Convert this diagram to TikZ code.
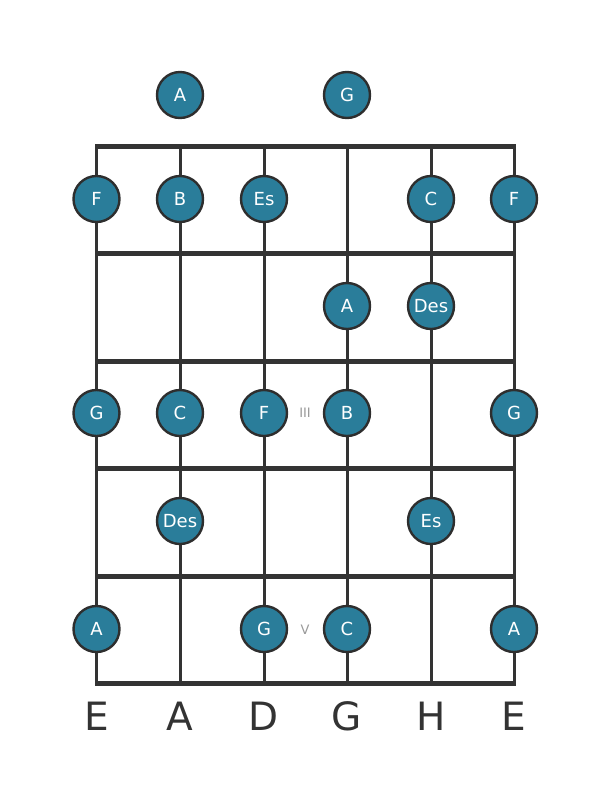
\documentclass[tikz,border=0pt]{standalone}
\usepackage{fontspec}
\setmainfont{DejaVu Sans}
\definecolor{notefill}{HTML}{2A7D9A}
\definecolor{ink}{HTML}{333333}
\definecolor{numgray}{HTML}{999999}
\begin{document}
\begin{tikzpicture}[x=1pt,y=-1pt,
  note/.style={circle,draw=ink!90!black,line width=2.4pt,fill=notefill,minimum size=46pt,inner sep=0pt,text=white,font=\fontsize{18}{18}\selectfont},
  fretline/.style={draw=ink,line width=5pt},
  stringline/.style={draw=ink,line width=3pt},
  strname/.style={text=ink,font=\fontsize{39}{39}\selectfont},
  roman/.style={text=numgray,font=\fontsize{13}{13}\selectfont}]
\useasboundingbox (0,0) rectangle (611,801);
% fret coordinates
\foreach \i/\y in {0/146.5,1/253.5,2/361,3/468,4/576,5/683}{
  \coordinate (fl\i) at (95,\y);
  \coordinate (fr\i) at (516,\y);
}
\foreach \i/\x in {1/96.5,2/180,3/264,4/347,5/431,6/514}{
  \coordinate (st\i) at (\x,146.5);
  \coordinate (sb\i) at (\x,683);
}
\foreach \i in {1,...,6}{\draw[stringline] (st\i) -- (sb\i);}
\foreach \i in {0,...,5}{\draw[fretline] (fl\i) -- (fr\i);}
% notes
\node[note] (o2) at (180,95) {A};
\node[note] (o4) at (347,95) {G};
\node[note] (a1) at (96.5,199) {F};
\node[note] (a2) at (180,199) {B};
\node[note] (a3) at (264,199) {Es};
\node[note] (a5) at (431,199) {C};
\node[note] (a6) at (514,199) {F};
\node[note] (b4) at (347,306) {A};
\node[note] (b5) at (431,306) {Des};
\node[note] (c1) at (96.5,413) {G};
\node[note] (c2) at (180,413) {C};
\node[note] (c3) at (264,413) {F};
\node[note] (c4) at (347,413) {B};
\node[note] (c6) at (514,413) {G};
\node[note] (d2) at (180,521) {Des};
\node[note] (d5) at (431,521) {Es};
\node[note] (e1) at (96.5,629) {A};
\node[note] (e3) at (264,629) {G};
\node[note] (e4) at (347,629) {C};
\node[note] (e6) at (514,629) {A};
\node[roman] (r3) at (305,413) {III};
\node[roman] (r5) at (305,630) {V};
% string names
\node[strname] (n1) at (96.5,716) {E};
\node[strname] (n2) at (180,716) {A};
\node[strname] (n3) at (264,716) {D};
\node[strname] (n4) at (347,716) {G};
\node[strname] (n5) at (431,716) {H};
\node[strname] (n6) at (514,716) {E};
\end{tikzpicture}
\end{document}
